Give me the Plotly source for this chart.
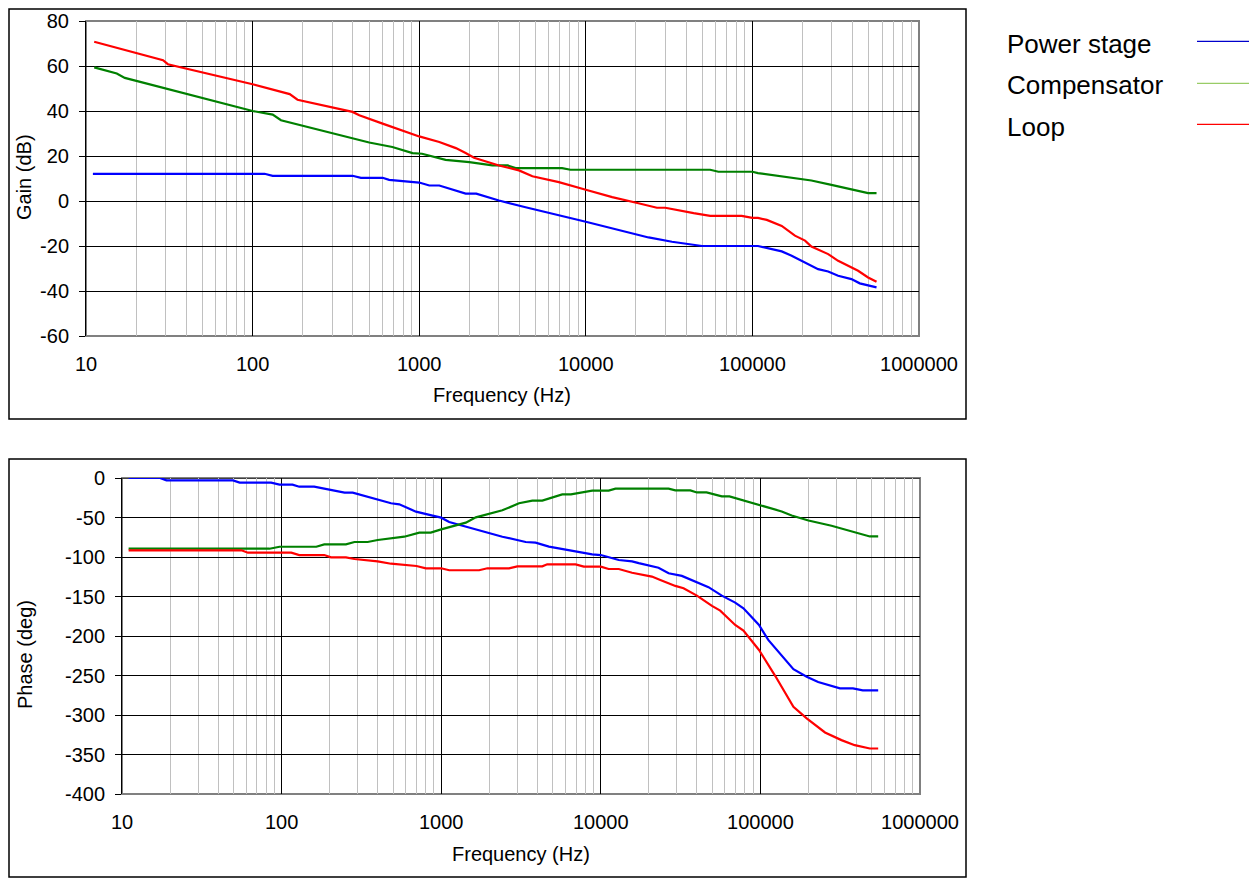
import plotly.graph_objects as go

# ---------------- data ----------------
gain_ps_f = [11, 118, 132, 398, 447, 603, 660, 870, 1000, 1150, 1320, 1900, 2200, 3010, 4350, 10000,
             23800, 32900, 41400, 49800, 108000, 131000, 150000, 172000, 207000, 248000, 285000,
             327000, 393000, 441000, 556000]
gain_ps_db = [12.1, 12.1, 11.2, 11.2, 10.3, 10.3, 9.4, 8.7, 8.2, 6.9, 6.9, 3.3, 3.3, 0.2, -2.8, -9.2,
              -16.2, -18.1, -19.1, -20.0, -20.0, -21.3, -22.4, -24.3, -27.3, -30.3, -31.3,
              -33.2, -34.7, -36.6, -38.4]

gain_comp_f = [11.2, 15.3, 17.1, 100, 132, 148, 501, 690, 912, 1040, 1440, 2000, 2750, 3400, 3790,
               7210, 8090, 55800, 62500, 100000, 108000, 137000, 172000, 226000, 298000, 393000,
               495000, 556000]
gain_comp_db = [59.4, 56.7, 54.7, 40.0, 38.4, 35.9, 26.0, 24.0, 21.3, 21.0, 18.3, 17.3, 15.8, 15.8, 14.6,
                14.6, 13.9, 13.9, 13.0, 13.0, 12.4, 11.3, 10.3, 9.1, 7.2, 5.1,
                3.5, 3.5]

gain_loop_f = [11.2, 29, 31, 100, 167, 186, 398, 437, 603, 832, 1000, 1320, 1660, 1900, 2134, 3013,
               3970, 4780, 6890, 10000, 14400, 20700, 23800, 26700, 30000, 37800, 44400, 55800,
               86200, 100000, 108000, 122000, 150000, 180000, 207000, 226000, 285000, 327000,
               431000, 495000, 556000]
gain_loop_db = [70.8, 62.6, 60.8, 51.9, 47.5, 45.0, 39.6, 38.1, 34.4, 30.7, 28.7, 26.2, 23.5, 21.3, 19.2, 15.8,
                13.6, 11.0, 8.4, 5.0, 1.7, -1.0, -2.0, -3.0, -3.0, -4.6, -5.4, -6.6,
                -6.6, -7.5, -7.5, -8.4, -11.1, -15.4, -17.6, -20.2, -23.6, -26.6,
                -31.0, -34.0, -35.9]

phase_ps_f = [11, 17.3, 19, 49.6, 54.6, 86, 97, 117, 129, 160, 185, 248, 279, 381, 485, 546, 695, 883,
              1000, 1122, 1426, 1902, 2417, 3383, 3904, 4732, 6618, 8830, 10000, 12960, 15700, 17280,
              23000, 26600, 32200, 40000, 47300, 57300, 69500, 78300, 98000, 112000, 133000,
              161000, 195000, 230000, 315000, 380000, 438000, 547000]
phase_ps_deg = [0, 0, -3, -3, -5.9, -5.9, -8.4, -8.4, -11, -11, -13.5, -18.6, -18.6, -25.7, -32, -33.3,
                -42.6, -47.7, -50.2, -55.7, -61.6, -69.2, -74.3, -81, -81.9, -86.9, -92, -96.6, -97.5,
                -103.8, -105.5, -107.8, -113.5, -120.6, -123.9, -131.9, -138.2, -148.9, -157.7, -164.9,
                -186, -205, -222, -242, -251.5, -258.3, -266.3, -266.3, -268.8, -268.8]

phase_comp_f = [11, 84, 97, 165, 185, 253, 286, 346, 400, 497, 587, 729, 860, 1000, 1426, 1648, 2417,
                3073, 3724, 4300, 5730, 6500, 7290, 8830, 11200, 12360, 26600, 29300, 36400, 40000,
                46000, 57300, 64000, 72900, 98000, 136000, 157000, 200000, 279000, 372000, 485000,
                547000]
phase_comp_deg = [-89.5, -89.5, -87, -87, -84, -84, -81, -81, -78.5, -76.4, -74.3, -69.2, -69.2, -65,
                  -56.5, -49.8, -40.9, -32, -28.7, -28.7, -20.7, -20.7, -18.6, -16, -16, -13.5, -13.5,
                  -15.7, -15.7, -18.3, -18.3, -23.3, -23.3, -26.7, -33.5, -42.3, -47.4, -53.8, -60.5,
                  -67.7, -74, -74]

phase_loop_f = [11, 56, 61.5, 115, 129, 185, 204, 253, 286, 346, 400, 485, 587, 700, 802, 1000, 1122,
                1728, 1946, 2661, 2998, 4300, 4616, 6950, 7830, 10000, 11200, 12960, 15700, 19000,
                20900, 23600, 29300, 33000, 40000, 49700, 56000, 69500, 78300, 98000, 124000,
                161000, 195000, 254000, 322000, 390000, 485000, 547000]
phase_loop_deg = [-91.5, -91.5, -94.5, -94.5, -97.5, -97.5, -100.4, -100.4, -102.5, -103.8, -105.5,
                  -108.5, -110, -111.4, -114.3, -114.3, -116.8, -116.8, -114.3, -114.3, -111.8, -111.8,
                  -109.3, -109.3, -112.2, -112.2, -115.2, -115.2, -119.9, -122.8, -124.8, -129,
                  -136.6, -139.5, -148.9, -161.9, -167.9, -186, -193.2, -217.7, -250.7, -289.6,
                  -304.3, -322.1, -331.8, -338.2, -342.4, -342.4]

series_names = ["Power stage", "Compensator", "Loop"]
x_tick_vals = [10, 100, 1000, 10000, 100000, 1000000]
x_tick_text = ["10", "100", "1000", "10000", "100000", "1000000"]
gain_tick_vals = [80, 60, 40, 20, 0, -20, -40, -60]
gain_tick_text = ["80", "60", "40", "20", "0", "-20", "-40", "-60"]
phase_tick_vals = [0, -50, -100, -150, -200, -250, -300, -350, -400]
phase_tick_text = ["0", "-50", "-100", "-150", "-200", "-250", "-300", "-350", "-400"]

# ---------------- styling / layout ----------------
OFF = 8                       # page body margin
W, H = 1257 - OFF, 879 - OFF  # figure fits the window exactly
FONT = "Liberation Sans, Arial, sans-serif"
line_colors = ["#0000FF", "#008000", "#FF0000"]
legend_colors = ["#0000CC", "#99CC66", "#FF0000"]

def px_x(p):
    return (p - OFF) / W

def px_y(p):
    return 1 - (p - OFF) / H

minor_vals = [m * 10 ** d for d in range(1, 6) for m in range(2, 10)]

fig = go.Figure()

gain_sets = [(gain_ps_f, gain_ps_db), (gain_comp_f, gain_comp_db), (gain_loop_f, gain_loop_db)]
phase_sets = [(phase_ps_f, phase_ps_deg), (phase_comp_f, phase_comp_deg), (phase_loop_f, phase_loop_deg)]

for name, (fx, fy), c in zip(series_names, gain_sets, line_colors):
    fig.add_trace(go.Scatter(x=fx, y=fy, mode="lines", name=name, showlegend=False,
                             line=dict(color=c, width=2.2), xaxis="x", yaxis="y", cliponaxis=False))
for name, (fx, fy), c in zip(series_names, phase_sets, line_colors):
    fig.add_trace(go.Scatter(x=fx, y=fy, mode="lines", name=name, showlegend=False,
                             line=dict(color=c, width=2.2), xaxis="x2", yaxis="y2", cliponaxis=False))

def xaxis_cfg(l, r, anchor):
    return dict(type="log", range=[1, 6], domain=[px_x(l), px_x(r)], anchor=anchor, automargin=False,
                tickvals=x_tick_vals, ticktext=x_tick_text, showgrid=True, gridcolor="#000000",
                gridwidth=1, zeroline=False, showline=False, ticks="", ticklabelstandoff=14,
                tickfont=dict(family=FONT, size=20, color="#000000"),
                minor=dict(tickvals=minor_vals, showgrid=True, gridcolor="#C0C0C0", gridwidth=1, ticks=""))

def yaxis_cfg(t, b, anchor, rng, tv, tt):
    return dict(range=rng, domain=[px_y(b), px_y(t)], anchor=anchor, automargin=False,
                tickvals=tv, ticktext=tt,
                showgrid=True, gridcolor="#000000", gridwidth=1, zeroline=False,
                showline=True, linecolor="#000000", linewidth=1, ticks="outside", ticklen=6,
                tickcolor="#000000", ticklabelstandoff=6, layer="below traces",
                tickfont=dict(family=FONT, size=20, color="#000000"))

# pixel boxes of plot areas (page coordinates)
T_L, T_R, T_T, T_B = 86, 919, 21, 336
B_L, B_R, B_T, B_B = 122, 920, 478, 794

fig.update_layout(
    width=W, height=H, margin=dict(l=0, r=0, t=0, b=0, pad=0, autoexpand=False), autosize=False,
    paper_bgcolor="#FFFFFF", plot_bgcolor="#FFFFFF",
    font=dict(family=FONT, size=20, color="#000000"),
    xaxis=xaxis_cfg(T_L, T_R, "y"),
    yaxis=yaxis_cfg(T_T, T_B, "x", [-60, 80], gain_tick_vals, gain_tick_text),
    xaxis2=xaxis_cfg(B_L, B_R, "y2"),
    yaxis2=yaxis_cfg(B_T, B_B, "x2", [-400, 0], phase_tick_vals, phase_tick_text),
)

shapes = []
# grey plot-area borders, drawn beneath the data lines
for xr, yr in [("x domain", "y domain"), ("x2 domain", "y2 domain")]:
    shapes.append(dict(type="rect", xref=xr, yref=yr, x0=0, x1=1, y0=0, y1=1,
                       line=dict(color="#808080", width=2), layer="below"))
# black zero line on top edge of the phase plot
shapes.append(dict(type="line", xref="x2 domain", yref="y2", x0=0, x1=1, y0=0, y1=0,
                   line=dict(color="#000000", width=1), layer="below"))
# chart outer frames
shapes.append(dict(type="rect", xref="paper", yref="paper", x0=px_x(9), x1=px_x(966),
                   y0=px_y(419), y1=px_y(9), line=dict(color="#000000", width=1.5)))
shapes.append(dict(type="rect", xref="paper", yref="paper", x0=px_x(9), x1=px_x(966),
                   y0=px_y(877), y1=px_y(459), line=dict(color="#000000", width=1.5)))

legend_y = [44, 85, 127]
legend_line_y = [41.3, 83.3, 124.3]
annotations = []
for name, c, ty, ly in zip(series_names, legend_colors, legend_y, legend_line_y):
    annotations.append(dict(text=name, xref="paper", yref="paper", x=px_x(1005), y=px_y(ty),
                            xanchor="left", yanchor="middle", showarrow=False,
                            font=dict(family=FONT, size=26, color="#000000")))
    shapes.append(dict(type="line", xref="paper", yref="paper", x0=px_x(1197), x1=px_x(1256),
                       y0=px_y(ly), y1=px_y(ly), line=dict(color=c, width=1.3)))

annotations += [
    dict(text="Gain (dB)", xref="paper", yref="paper", x=px_x(24), y=px_y(177), textangle=-90,
         xanchor="center", yanchor="middle", showarrow=False, font=dict(family=FONT, size=20)),
    dict(text="Phase (deg)", xref="paper", yref="paper", x=px_x(25), y=px_y(655), textangle=-90,
         xanchor="center", yanchor="middle", showarrow=False, font=dict(family=FONT, size=20)),
    dict(text="Frequency (Hz)", xref="paper", yref="paper", x=px_x(502), y=px_y(395),
         xanchor="center", yanchor="middle", showarrow=False, font=dict(family=FONT, size=20)),
    dict(text="Frequency (Hz)", xref="paper", yref="paper", x=px_x(521), y=px_y(854),
         xanchor="center", yanchor="middle", showarrow=False, font=dict(family=FONT, size=20)),
]

fig.update_layout(shapes=shapes, annotations=annotations)
fig.write_html("out.html")
